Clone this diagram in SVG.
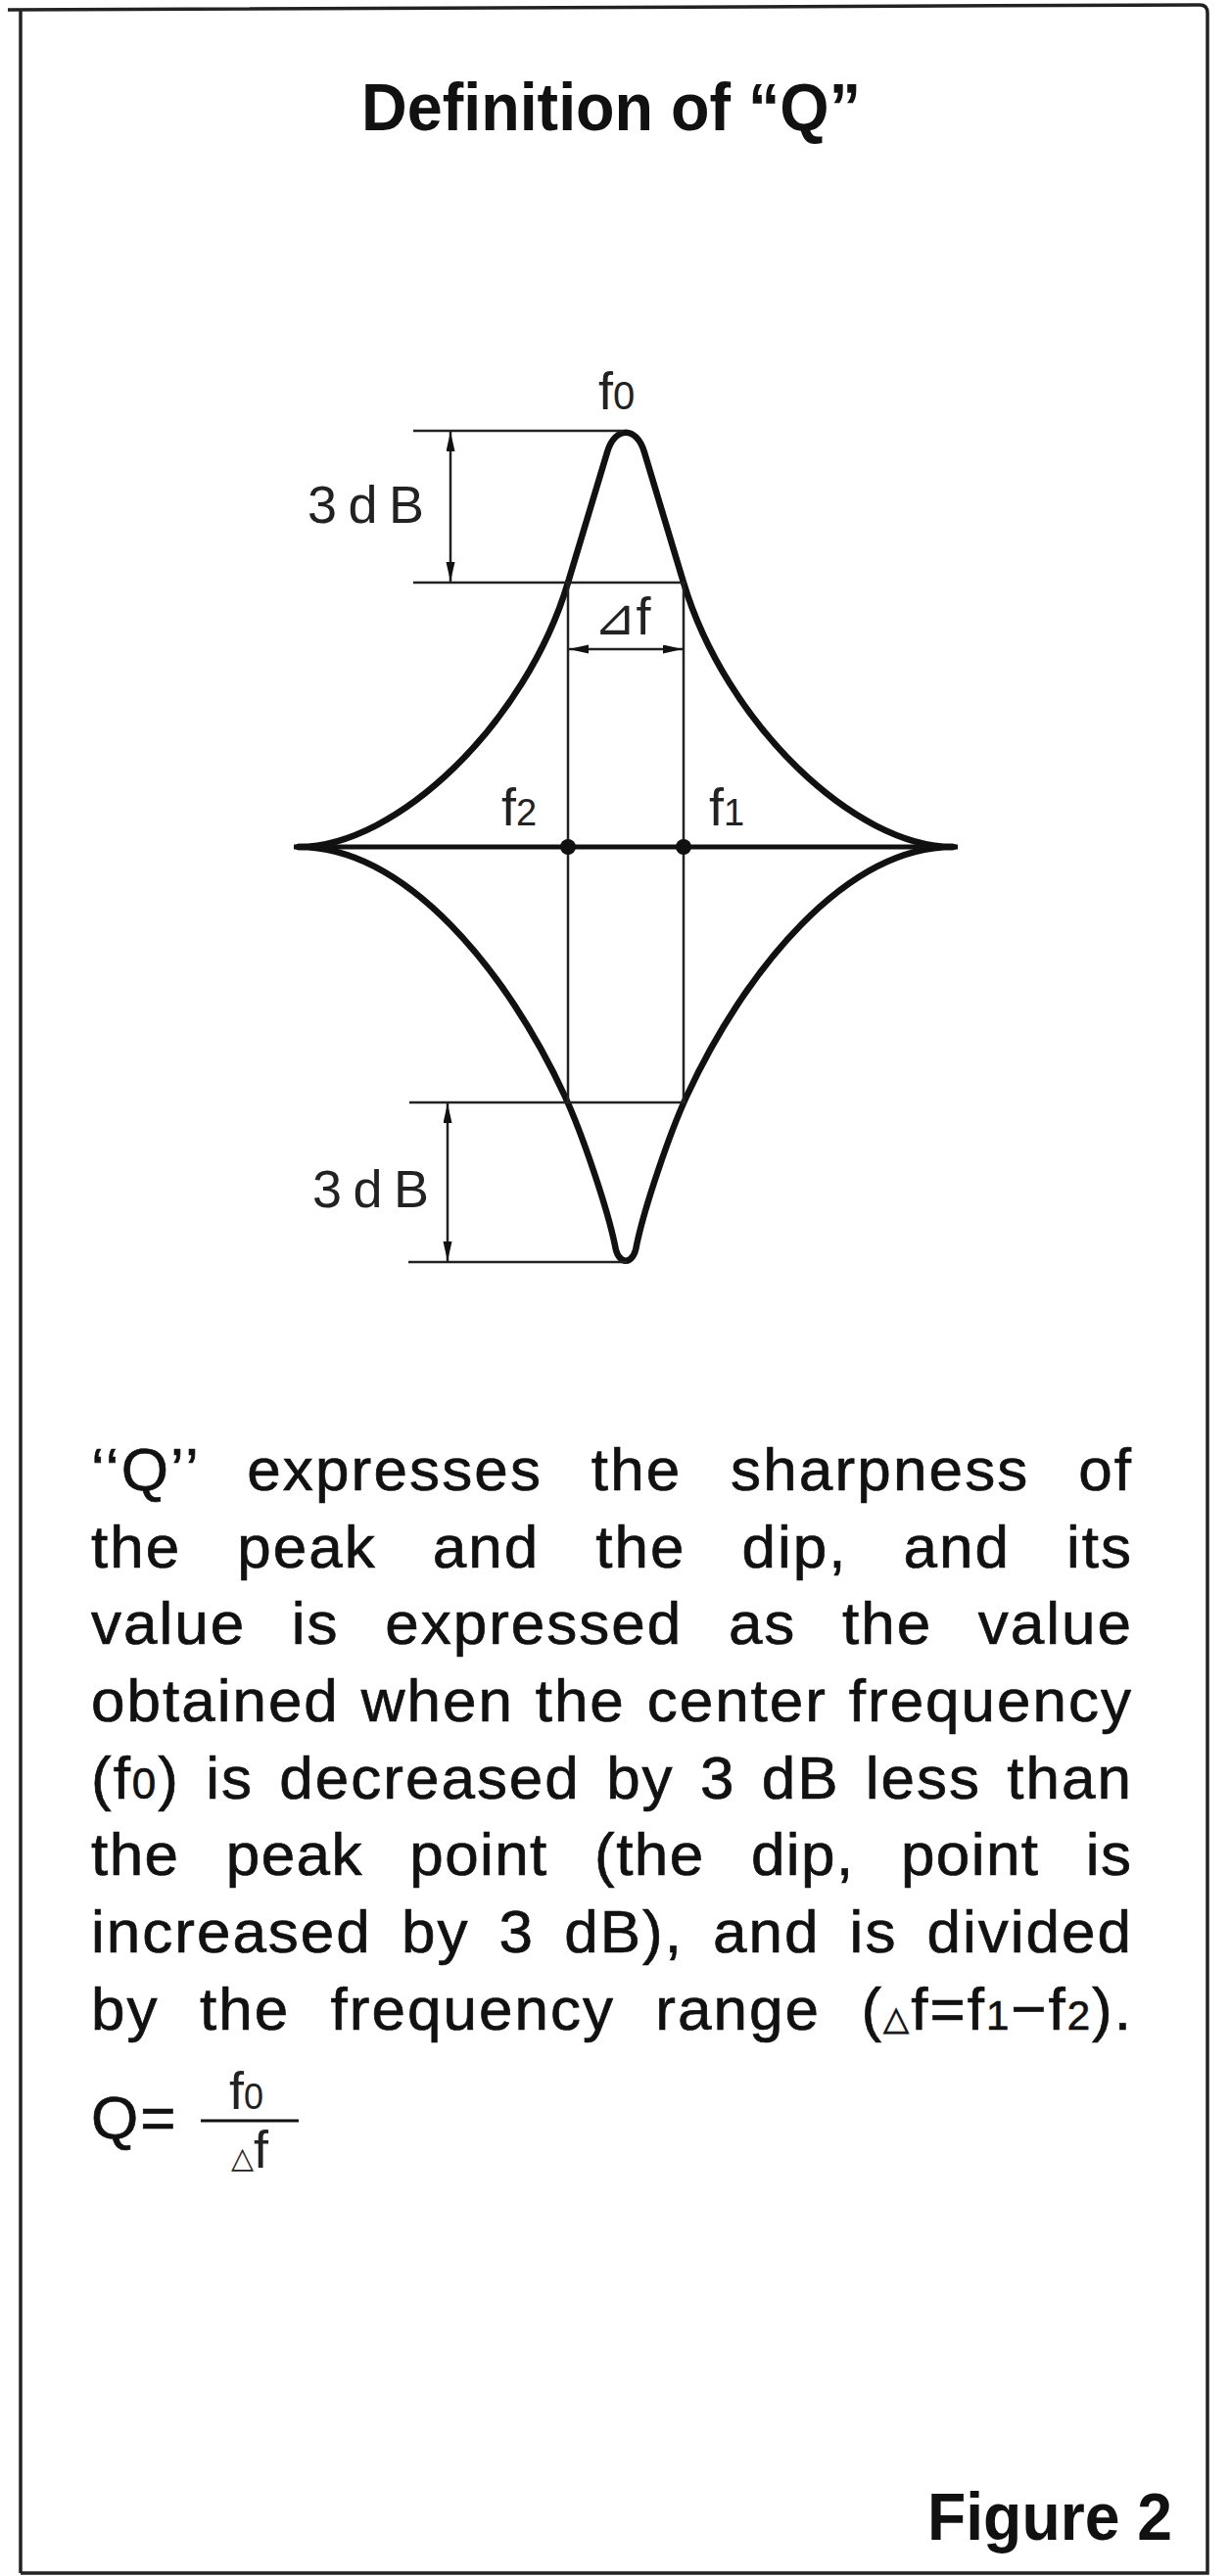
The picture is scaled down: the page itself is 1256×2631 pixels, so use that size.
<svg xmlns="http://www.w3.org/2000/svg" width="1256" height="2631" viewBox="0 0 1256 2631">
<style>
.title{font-family:"Liberation Sans","DejaVu Sans",sans-serif;font-weight:bold;font-size:68px;fill:#111}
.lbl{font-family:"Liberation Sans","DejaVu Sans","Noto Sans CJK JP",sans-serif;font-size:54px;fill:#222}
.body{font-family:"Liberation Sans","DejaVu Sans",sans-serif;font-size:62px;letter-spacing:2px;fill:#111;stroke:#111;stroke-width:0.7}
.curve{fill:none;stroke:#111;stroke-width:6.5;stroke-linejoin:round;stroke-linecap:round}
.thin{fill:none;stroke:#222;stroke-width:2.5}
.axis{fill:none;stroke:#111;stroke-width:5}
.dim{fill:none;stroke:#222;stroke-width:2.5;marker-start:url(#arr);marker-end:url(#arr)}
</style>
<defs>
<marker id="arr" markerUnits="userSpaceOnUse" markerWidth="22" markerHeight="10" refX="20" refY="4.5" orient="auto-start-reverse">
<path d="M0,0 L20,4.5 L0,9 Z" fill="#111"/>
</marker>
</defs>
<rect x="0" y="0" width="1256" height="2631" fill="#fff"/>
<g id="frame">
<path d="M21,2628 L21,10 M8,10 L1225,5 Q1233,5 1233,13 L1233,2628 L21,2628" fill="none" stroke="#222" stroke-width="3.5"/>
</g>
<g id="title"><text class="title" x="369" y="133" textLength="510" lengthAdjust="spacingAndGlyphs">Definition of “Q”</text></g>
<g id="connectors">
<path class="curve" d="M305,865 C405,865 537,738.7 580,595 L620,462 C628,435 650,435 658,462 L698,595 C741,738.7 873,865 973,865"/>
<path class="curve" d="M305,865 C415,865 518.2,992.6 577,1120 C593.8,1156.4 620,1232.8 628,1272 C631,1293 647,1293 650,1272 C658,1232.8 684.2,1156.4 701,1120 C759.8,992.6 863,865 973,865"/>
<line class="axis" x1="300" y1="865" x2="978" y2="865"/>
<line class="thin" x1="422" y1="440" x2="636" y2="440"/>
<line class="thin" x1="422" y1="595" x2="700" y2="595"/>
<line class="thin" x1="418" y1="1126" x2="700" y2="1126"/>
<line class="thin" x1="417" y1="1289" x2="640" y2="1289"/>
<line class="thin" x1="580" y1="595" x2="580" y2="1126"/>
<line class="thin" x1="698" y1="595" x2="698" y2="1126"/>
<line class="dim" x1="460" y1="441" x2="460" y2="594"/>
<line class="dim" x1="457" y1="1127" x2="457" y2="1288"/>
<line class="dim" x1="581" y1="663" x2="697" y2="663"/>
<circle cx="580" cy="865" r="8" fill="#111"/>
<circle cx="698" cy="865" r="8" fill="#111"/>
</g>
<g id="label-f0"><text class="lbl" x="611" y="418">f<tspan font-size="40">0</tspan></text></g>
<g id="label-3db-top"><text class="lbl" x="314" y="534" font-size="60" textLength="119" lengthAdjust="spacing">3dB</text></g>
<g id="label-df"><text class="lbl" x="606" y="648"><tspan font-size="52">⊿</tspan>f</text></g>
<g id="label-f2"><text class="lbl" x="512" y="843">f<tspan font-size="38">2</tspan></text></g>
<g id="label-f1"><text class="lbl" x="724" y="843">f<tspan font-size="38">1</tspan></text></g>
<g id="label-3db-bottom"><text class="lbl" x="319" y="1233" font-size="60" textLength="119" lengthAdjust="spacing">3dB</text></g>
<g id="body">
<text class="body" x="93" y="1522" word-spacing="30.3" textLength="1064" lengthAdjust="spacing">‘‘Q’’ expresses the sharpness of</text>
<text class="body" x="93" y="1601" word-spacing="37.8" textLength="1064" lengthAdjust="spacing">the peak and the dip, and its</text>
<text class="body" x="93" y="1679" word-spacing="27.4" textLength="1064" lengthAdjust="spacing">value is expressed as the value</text>
<text class="body" x="93" y="1758" word-spacing="2.6" textLength="1064" lengthAdjust="spacing">obtained when the center frequency</text>
<text class="body" x="93" y="1837" word-spacing="7.1" textLength="1064" lengthAdjust="spacing">(f<tspan font-size="44">0</tspan>) is decreased by 3 dB less than</text>
<text class="body" x="93" y="1915" word-spacing="28.8" textLength="1064" lengthAdjust="spacing">the peak point (the dip, point is</text>
<text class="body" x="93" y="1994" word-spacing="10.9" textLength="1064" lengthAdjust="spacing">increased by 3 dB), and is divided</text>
<text class="body" x="93" y="2073" word-spacing="22.2" textLength="1064" lengthAdjust="spacing">by the frequency range (<tspan font-size="34">△</tspan>f=f<tspan font-size="42">1</tspan>−f<tspan font-size="42">2</tspan>).</text>
</g>
<g id="formula">
<text class="body" x="93" y="2184">Q=</text>
<line x1="205" y1="2166" x2="305" y2="2166" stroke="#111" stroke-width="3"/>
<text class="lbl" x="234" y="2154" font-size="46">f<tspan font-size="36">0</tspan></text>
<text class="lbl" x="236" y="2214" font-size="46"><tspan font-size="30">△</tspan>f</text>
</g>
<g id="figure-label"><text class="title" x="947" y="2594" font-size="70" textLength="250" lengthAdjust="spacingAndGlyphs">Figure 2</text></g>
</svg>
